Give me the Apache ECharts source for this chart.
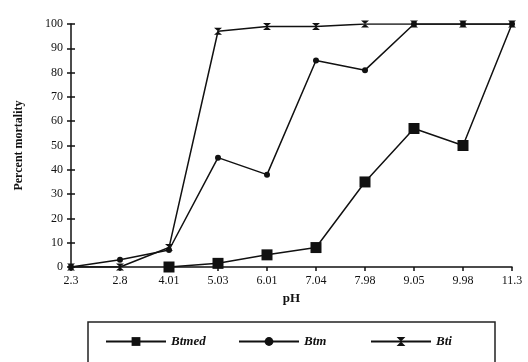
<!DOCTYPE html>
<html><head><meta charset="utf-8">
<script src="https://cdn.jsdelivr.net/npm/echarts@6/dist/echarts.min.js"></script>
<style>html,body{margin:0;padding:0;background:#fff}#c{width:528px;height:362px}</style>
</head><body><div id="c"></div>
<script>
const categories = ['2.3','2.8','4.01','5.03','6.01','7.04','7.98','9.05','9.98','11.3'];
const btmed = [null, null, 0, 1.5, 5, 8, 35, 57, 50, 100];
const btm = [0, 3, 7, 45, 38, 85, 81, 100, 100, 100];
const bti = [0, 0, 8, 97, 99, 99, 100, 100, 100, 100];
const yTicks = [0,10,20,30,40,50,60,70,80,90,100];

const hourglass = 'path://M0,0 L10,0 L0,10 L10,10 Z';
const font = 'Liberation Serif';
const chart = echarts.init(document.getElementById('c'));
const axisX = (inside, show) => ({
  type: 'category', data: categories, boundaryGap: false, gridIndex: 0,
  axisLine: {show: show, lineStyle: {color: '#111', width: 1.5}},
  axisTick: {show: true, inside: inside, length: 4, lineStyle: {color: '#111', width: 1.5}},
  axisLabel: {show: show, color: '#111', fontFamily: font, fontSize: 12, margin: 8},
  name: show ? 'pH' : '', nameLocation: 'middle', nameGap: 24,
  nameTextStyle: {fontFamily: font, fontWeight: 'bold', fontSize: 13, color: '#111'},
  splitLine: {show: false}
});
const axisY = (inside, show) => ({
  type: 'value', min: 0, max: 100, interval: 10, position: 'left',
  axisLine: {show: show, lineStyle: {color: '#111', width: 1.5}},
  axisTick: {show: true, inside: inside, length: 4, lineStyle: {color: '#111', width: 1.5}},
  axisLabel: {show: show, color: '#111', fontFamily: font, fontSize: 12, margin: 8,
    formatter: v => yTicks.includes(v) ? String(v) : ''},
  name: show ? 'Percent mortality' : '', nameLocation: 'middle', nameGap: 46, nameRotate: 90,
  nameTextStyle: {fontFamily: font, fontWeight: 'bold', fontSize: 12, color: '#111'},
  splitLine: {show: false}
});
const line = {color: '#111', width: 1.5};
const legendText = {fontFamily: font, fontStyle: 'italic', fontWeight: 'bold', fontSize: 13, color: '#111'};
const mkLegend = (name, left) => ({
  top: 330, left: left, itemWidth: 60, itemHeight: 11, itemGap: 10,
  textStyle: legendText, data: [name]
});
const lastIdx = btmed.length - 1;
chart.setOption({
  animation: false,
  backgroundColor: '#fff',
  grid: {left: 71, right: 16, top: 24, bottom: 95},
  xAxis: [axisX(false, true), axisX(true, false)],
  yAxis: [axisY(false, true), axisY(true, false)],
  legend: [mkLegend('Btmed', 100), mkLegend('Btm', 233), mkLegend('Bti', 365)],
  graphic: [{type: 'rect', shape: {x: 88, y: 322, width: 407, height: 50},
    style: {fill: 'none', stroke: '#222', lineWidth: 1.5}, silent: true}],
  series: [
    {name: 'Btmed', type: 'line', symbol: 'rect', symbolSize: 11,
      data: btmed.map((v, i) => i === lastIdx ? {value: v, symbol: 'none'} : v),
      lineStyle: line, itemStyle: {color: '#111'}, z: 2},
    {name: 'Btm', type: 'line', data: btm, symbol: 'circle', symbolSize: 6,
      lineStyle: line, itemStyle: {color: '#111'}, z: 3},
    {name: 'Bti', type: 'line', data: bti, symbol: hourglass, symbolSize: [8, 7],
      lineStyle: line, itemStyle: {color: '#111'}, z: 4, zlevel: 1}
  ]
});
</script></body></html>
